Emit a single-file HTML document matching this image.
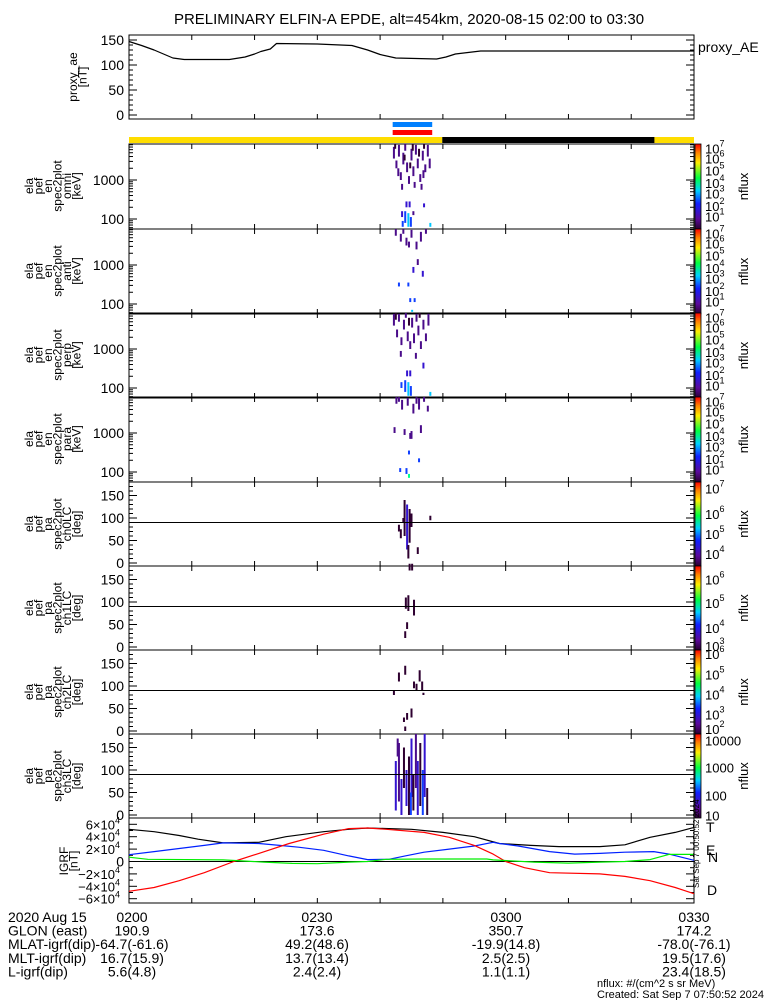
<!DOCTYPE html>
<html><head><meta charset="utf-8">
<style>
html,body{margin:0;padding:0;background:#fff;}
svg{display:block;font-family:"Liberation Sans","DejaVu Sans",sans-serif;}
text{fill:#000;}
</style></head>
<body>
<svg id="chart" width="775" height="1000" viewBox="0 0 775 1000" xmlns="http://www.w3.org/2000/svg">
<defs>
<linearGradient id="cbar" x1="0" y1="1" x2="0" y2="0">
<stop offset="0" stop-color="#2a0030"/><stop offset="0.12" stop-color="#5a0a9a"/><stop offset="0.3" stop-color="#1020ff"/>
<stop offset="0.45" stop-color="#00d0ff"/><stop offset="0.6" stop-color="#00ff40"/><stop offset="0.78" stop-color="#ffee00"/>
<stop offset="0.9" stop-color="#ff8000"/><stop offset="1" stop-color="#ff0000"/>
</linearGradient>
</defs>
<text x="409" y="24" font-size="15" text-anchor="middle">PRELIMINARY ELFIN-A EPDE, alt=454km, 2020-08-15 02:00 to 03:30</text>
<g id="g"></g>
</svg>
<script>
// ---- data ----
const aeTimes = [0,2,4,7,8.8,16,18.5,20,21,22.5,23.5,30,35.5,38,40,42.5,49,50.5,52,54,56,90];
const aeValues = [147,139,130,114,111,111,116,122,127,132,143,142,139,130,121,114,112,116,122,125,128,128];
const fTimes = [0,4,8,11,15,20.7,25,31,35,38,45,50,55,59,64,68.5,75,79,83,87,90];
const igrfF = [5.2,4.8,4.2,3.6,3.0,3.1,4.0,4.8,5.2,5.4,5.2,4.7,4.0,2.9,2.6,2.4,2.4,2.7,3.9,4.7,5.5];
const nTimes = [0,4,8,12,15,20.7,24,27,31,35,38,41.4,44,47,51,55,58,59,62,67,71,75,79,83.6,86,90];
const igrfN = [1.1,1.6,2.1,2.6,3.0,2.9,2.6,2.3,1.8,0.9,0.3,0.35,0.9,1.5,2.0,2.5,3.1,2.9,2.5,1.6,1.2,1.3,1.5,1.6,1.2,0.2];
const dTimes = [0,4,8,12,16.7,20.7,25.5,31,35,38,41,47,51,55,58,60,63,67,75,79,83,87,90];
const igrfD = [-4.8,-4.2,-3.1,-1.8,0,1.3,2.9,4.4,5.3,5.4,5.2,4.7,3.9,2.6,1.2,0,-1.0,-1.8,-2.0,-2.4,-3.1,-4.2,-5.2];
const eTimes = [0,3,15,21.5,26,30,35,38,41,47,57,58,64.5,70,75,79,83,86,90];
const igrfE = [0.7,0.35,0.26,-0.1,-0.3,-0.36,-0.1,0,0.35,0.4,0.4,0.26,-0.1,-0.26,-0.1,0,0.3,1.15,1.15];
const sciTimes = [42.0,48.3];
const sunTimes = [0,49.9,83.7,90];
const omniBins = [[42.2,3.55,3.85,1],[42.6,3.3,3.5,1],[43.0,3.6,3.9,1],[43.3,3.0,3.2,1],[43.7,3.4,3.7,1],[44.0,3.75,3.92,1],[44.3,3.2,3.45,1],[44.6,2.9,3.1,1],[45.0,3.5,3.8,1],[45.3,3.1,3.35,1],[45.7,3.65,3.9,1],[46.0,3.3,3.55,1],[46.4,2.95,3.15,1],[46.8,3.5,3.75,1],[47.2,3.2,3.4,1],[47.6,3.6,3.9,1],[47.9,3.3,3.55,1],[43.5,2.75,2.9,1],[45.5,2.8,2.95,1],[46.6,2.75,2.9,1],[42.4,3.8,3.92,0],[43.9,3.5,3.65,0],[45.2,3.75,3.92,0],[46.2,3.6,3.8,0],[47.0,3.8,3.92,0],[44.8,3.3,3.45,0],[42.9,3.1,3.3,1],[46.9,3.05,3.25,1],[44.2,2.3,2.45,2],[44.7,2.3,2.45,2],[47.0,2.3,2.4,2],[43.5,2.05,2.2,2],[44.0,1.9,2.2,3],[44.5,1.8,2.15,4],[44.9,1.8,2.05,3],[43.6,1.8,1.95,3],[48.0,1.8,1.9,4],[45.3,2.1,2.2,1]];
const antiBins = [[42.5,3.75,3.92,1],[43.3,3.6,3.8,1],[44.2,3.5,3.7,1],[45.0,3.7,3.9,1],[45.8,3.4,3.6,1],[46.5,3.6,3.85,1],[47.3,3.8,3.92,1],[44.6,3.45,3.6,1],[43.7,3.8,3.92,1],[46.0,3.0,3.15,1],[45.3,2.8,2.95,2],[46.8,2.7,2.85,2],[43.0,2.45,2.55,3],[44.5,2.45,2.55,3],[44.8,2.05,2.15,3],[45.5,2.05,2.15,3],[45.1,1.8,1.85,4]];
const perpBins = [[42.2,3.6,3.9,1],[42.7,3.3,3.5,1],[43.0,3.7,3.9,1],[43.4,3.1,3.3,1],[43.8,3.5,3.75,1],[44.1,3.8,3.92,1],[44.4,3.2,3.45,1],[44.8,3.0,3.2,1],[45.1,3.55,3.8,1],[45.4,3.15,3.4,1],[45.8,3.7,3.9,1],[46.1,3.35,3.6,1],[46.5,3.0,3.2,1],[46.9,3.5,3.75,1],[47.3,3.2,3.4,1],[47.7,3.6,3.9,1],[42.5,3.75,3.92,0],[44.6,3.6,3.8,0],[46.3,3.8,3.92,0],[43.3,2.8,2.95,1],[45.7,2.75,2.9,1],[46.9,2.5,2.65,2],[44.3,2.3,2.45,2],[44.8,2.3,2.45,2],[43.4,2.0,2.15,3],[44.0,1.9,2.2,3],[44.5,1.8,2.15,4],[44.9,1.8,2.05,3],[48.0,1.8,1.9,4]];
const paraBins = [[42.6,3.75,3.92,1],[43.5,3.6,3.85,1],[44.4,3.7,3.9,1],[45.3,3.5,3.75,1],[46.2,3.6,3.9,1],[47.0,3.8,3.92,1],[47.6,3.55,3.7,1],[43.0,3.8,3.92,1],[45.8,3.75,3.92,1],[42.3,3.0,3.15,1],[43.9,2.95,3.1,1],[45.0,2.85,3.05,1],[46.5,3.0,3.2,1],[44.8,2.85,3.0,1],[44.6,2.45,2.55,3],[46.2,2.25,2.35,3],[43.2,2.0,2.1,3],[44.2,1.95,2.1,3],[44.6,1.85,1.95,5]];
const ch0Bins = [[43.3,55,75,0],[43.9,60,140,0],[44.3,30,130,2],[44.7,45,120,0],[45.0,80,110,0],[43.7,90,100,0],[44.5,10,40,0],[46.0,20,35,0],[48.0,95,105,0],[43.0,70,85,0]];
const ch1Bins = [[44.1,85,110,0],[44.5,80,115,0],[44.0,20,35,0],[44.3,40,55,0],[45.4,70,105,0],[44.7,170,185,0],[45.1,170,185,0]];
const ch2Bins = [[43.0,110,130,0],[44.0,125,145,0],[45.4,95,110,0],[45.8,90,105,0],[46.3,110,135,0],[46.7,90,110,0],[46.9,80,85,0],[45.0,30,50,0],[44.3,25,40,0],[42.2,80,90,0],[43.8,20,30,0],[44.0,0,10,0]];
const ch3Bins = [[42.5,10,120,2],[43.0,30,160,1],[43.4,0,80,2],[43.8,60,150,0],[44.2,20,100,2],[44.6,0,130,0],[45.0,40,170,2],[45.3,10,90,0],[45.7,60,180,1],[46.0,0,120,2],[46.4,20,160,0],[46.8,0,100,3],[47.1,40,180,2],[47.5,0,60,0],[42.8,130,170,1],[44.9,0,50,3]];
const footLabels = ["2020 Aug 15","GLON (east)","MLAT-igrf(dip)","MLT-igrf(dip)","L-igrf(dip)"];
const footTimes = ["0200","0230","0300","0330"];
const footGlon = ["190.9","173.6","350.7","174.2"];
const footMlat = ["-64.7(-61.6)","49.2(48.6)","-19.9(14.8)","-78.0(-76.1)"];
const footMlt = ["16.7(15.9)","13.7(13.4)","2.5(2.5)","19.5(17.6)"];
const footL = ["5.6(4.8)","2.4(2.4)","1.1(1.1)","23.4(18.5)"];

// ---- layout ----
const NS="http://www.w3.org/2000/svg";
const G=document.getElementById('g');
const X0=129,X1=694;
const xT=t=>X0+t*(X1-X0)/90;
const levelColors=["#2e0030","#4a0c8a","#3414d0","#1040ff","#00c8ff","#00ff90"];
function el(tag,attrs,parent){const e=document.createElementNS(NS,tag);for(const k in attrs)e.setAttribute(k,attrs[k]);(parent||G).appendChild(e);return e;}
function txt(x,y,s,size,anchor,parent,fill){const t=el('text',{x:x,y:y,'font-size':size||13,'text-anchor':anchor||'start'},parent);if(fill)t.setAttribute('fill',fill);t.textContent=s;return t;}
function frame(y0,y1,name){
  const g=el('g',{});
  
  
  el('rect',{x:X0,y:y0,width:X1-X0,height:y1-y0,fill:'none',stroke:'#000','stroke-width':1},g);
  for(let m=10;m<90;m+=10){const x=xT(m);el('line',{x1:x,x2:x,y1:y1,y2:y1-5,stroke:'#000'},g);el('line',{x1:x,x2:x,y1:y0,y2:y0+5,stroke:'#000'},g);}
  return g;
}
function yTick(g,y,len){el('line',{x1:X0,x2:X0+len,y1:y,y2:y,stroke:'#000'},g);el('line',{x1:X1,x2:X1-len,y1:y,y2:y,stroke:'#000'},g);}
function leftLabel(g,lines,cy,x0){
  lines.forEach((s,i)=>{const x=x0+i*9.5;const t=txt(x,cy,s,12,'middle',g);t.setAttribute('transform','rotate(-90 '+x+' '+cy+')');});
}
function poly(g,times,vals,yv,color,name){
  const p=times.map((t,i)=>xT(t).toFixed(1)+','+yv(vals[i]).toFixed(1)).join(' ');
  const l=el('polyline',{points:p,fill:'none',stroke:color,'stroke-width':1.2,'stroke-linejoin':'round'},g);
  
  
}

// proxy AE panel
{
  const y0=35,y1=119,yv=v=>115-v*0.5;
  const g=frame(y0,y1,'proxy-ae-panel');
  [0,50,100,150].forEach(v=>{yTick(g,yv(v),8);txt(124,yv(v)+5,String(v),14,'end',g);});
  for(let v=10;v<160;v+=10){if(v%50)yTick(g,yv(v),4);}
  poly(g,aeTimes,aeValues,yv,'#000','proxy-ae-line');
  leftLabel(g,['proxy_ae','[nT]'],77,77);
  const lg=txt(698,52,'proxy_AE',14,'start',g);
  
  
}
// science zone bars
{
  const b=el('rect',{x:xT(sciTimes[0]),y:122,width:xT(sciTimes[1])-xT(sciTimes[0]),height:5,fill:'#0080ff'});
  
  
  const r=el('rect',{x:xT(sciTimes[0]),y:130,width:xT(sciTimes[1])-xT(sciTimes[0]),height:5,fill:'#ff0000'});
  
  
  const cols=['#ffdd00','#000000','#ffdd00'];
  for(let i=0;i<3;i++){
    const s=el('rect',{x:xT(sunTimes[i]),y:137,width:xT(sunTimes[i+1])-xT(sunTimes[i]),height:6,fill:cols[i]});
    
    
  }
}
function colorbar(y0,y1,labels,name){
  const g=el('g',{});
  
  
  el('rect',{x:695,y:y0,width:6,height:y1-y0,fill:'url(#cbar)',stroke:'#000','stroke-width':0.8},g);
  labels.forEach(([s,e,fy])=>{const y=y0+(y1-y0)*fy;const t=txt(705,y+5,s,13,'start',g);if(e){const ts=el('tspan',{dy:-7,'font-size':9},t);ts.textContent=e;}});
  const lx=748,cy=(y0+y1)/2;const t=txt(lx,cy,'nflux',13,'middle',g);t.setAttribute('transform','rotate(-90 '+lx+' '+cy+')');
}
const energyLabels=[['10','7',0.05],['10','6',0.17],['10','5',0.31],['10','4',0.46],['10','3',0.58],['10','2',0.73],['10','1',0.85]];
function specPanel(y0,bins,kind,name){
  const y1=y0+85;
  const g=frame(y0,y1,name+'-panel');
  const yE=L=>y0+36+(3-L)*39;
  [2,3].forEach(d=>{yTick(g,yE(d),8);txt(124,yE(d)+5,String(Math.pow(10,d)),14,'end',g);});
  for(let d=1;d<4;d++)for(let m=2;m<10;m++){const y=yE(d+Math.log10(m));if(y>y0&&y<y1)yTick(g,y,4);}
  bins.forEach(b=>{
    const r=el('rect',{x:xT(b[0])-1,y:yE(b[2]),width:2,height:Math.max(2,yE(b[1])-yE(b[2])),fill:levelColors[b[3]]},g);
    
    
  });
  leftLabel(g,['ela','pef','en','spec2plot',kind,'[keV]'],y0+42,33);
  colorbar(y0,y1,energyLabels,name+'-colorbar');
}
function pitchPanel(y0,bins,kind,name,cbl){
  const y1=y0+84;
  const g=frame(y0,y1,name+'-panel');
  const yA=a=>y0+81-a*0.45;
  [0,50,100,150].forEach(a=>{yTick(g,yA(a),8);txt(124,yA(a)+5,String(a),14,'end',g);});
  for(let a=10;a<190;a+=10)if(a%50)yTick(g,yA(a),4);
  bins.forEach(b=>{
    const r=el('rect',{x:xT(b[0])-1,y:yA(b[2]),width:2,height:Math.max(2,yA(b[1])-yA(b[2])),fill:levelColors[b[3]]},g);
    
    
  });
  el('line',{x1:X0,x2:X1,y1:yA(90),y2:yA(90),stroke:'#000'},g);
  leftLabel(g,['ela','pef','pa','spec2plot',kind,'[deg]'],y0+42,33);
  colorbar(y0,y1,cbl,name+'-colorbar');
}
specPanel(144,omniBins,'omni','omni-spectrogram');
specPanel(229,antiBins,'anti','anti-spectrogram');
specPanel(313,perpBins,'perp','perp-spectrogram');
specPanel(397,paraBins,'para','para-spectrogram');
pitchPanel(482,ch0Bins,'ch0LC','ch0-pitch',[['10','7',0.08],['10','6',0.38],['10','5',0.62],['10','4',0.86]]);
pitchPanel(566,ch1Bins,'ch1LC','ch1-pitch',[['10','6',0.16],['10','5',0.44],['10','4',0.74],['10','3',0.95]]);
pitchPanel(650,ch2Bins,'ch2LC','ch2-pitch',[['10','6',0.05],['10','5',0.29],['10','4',0.53],['10','3',0.77],['10','2',0.94]]);
pitchPanel(734,ch3Bins,'ch3LC','ch3-pitch',[['10000','',0.08],['1000','',0.4],['100','',0.73],['10','',0.97]]);
// IGRF panel
{
  const y0=818,y1=903,yv=v=>861.5-v*6.2;
  const g=frame(y0,y1,'igrf-panel');
  [-6,-4,-2,2,4,6].forEach(v=>{yTick(g,yv(v),8);const t=txt(120,yv(v)+5,(v<0?'−':'')+Math.abs(v)+'×10',13,'end',g);const e=el('tspan',{dy:-6,'font-size':9},t);e.textContent='4';});
  yTick(g,yv(0),8);txt(124,yv(0)+5,'0',14,'end',g);
  for(let v=-5;v<=5;v+=2)yTick(g,yv(v),4);
  el('line',{x1:X0,x2:X1,y1:yv(0),y2:yv(0),stroke:'#000'},g);
  poly(g,fTimes,igrfF,yv,'#000','igrf-total-line');
  poly(g,nTimes,igrfN,yv,'#0020ff','igrf-north-line');
  poly(g,dTimes,igrfD,yv,'#ff0000','igrf-down-line');
  poly(g,eTimes,igrfE,yv,'#00ee00','igrf-east-line');
  leftLabel(g,['IGRF','[nT]'],861,68);
  txt(706,832,'T',14,'start',g);txt(706,855,'E',14,'start',g,'#00dd00');txt(708,862,'N',14,'start',g,'#0020ff');txt(707,895,'D',14,'start',g,'#ff0000');
  const s=txt(0,0,'Sat Sep  7 00:50:52 2024',8,'start',g);s.setAttribute('transform','translate(699 888) rotate(-90)');
}
// footer
{
  const g=el('g',{});
  
  
  const rows=[footTimes,footGlon,footMlat,footMlt,footL];
  const cx=[132,317,506,694];
  footLabels.forEach((s,i)=>txt(8,922+i*13.6,s,14,'start',g));
  rows.forEach((r,i)=>r.forEach((s,j)=>txt(cx[j],922+i*13.6,s,14,'middle',g)));
  txt(597,987,'nflux: #/(cm^2 s sr MeV)',11,'start',g);
  txt(597,998,'Created: Sat Sep  7 07:50:52 2024',11,'start',g);
}
</script>
</body></html>
